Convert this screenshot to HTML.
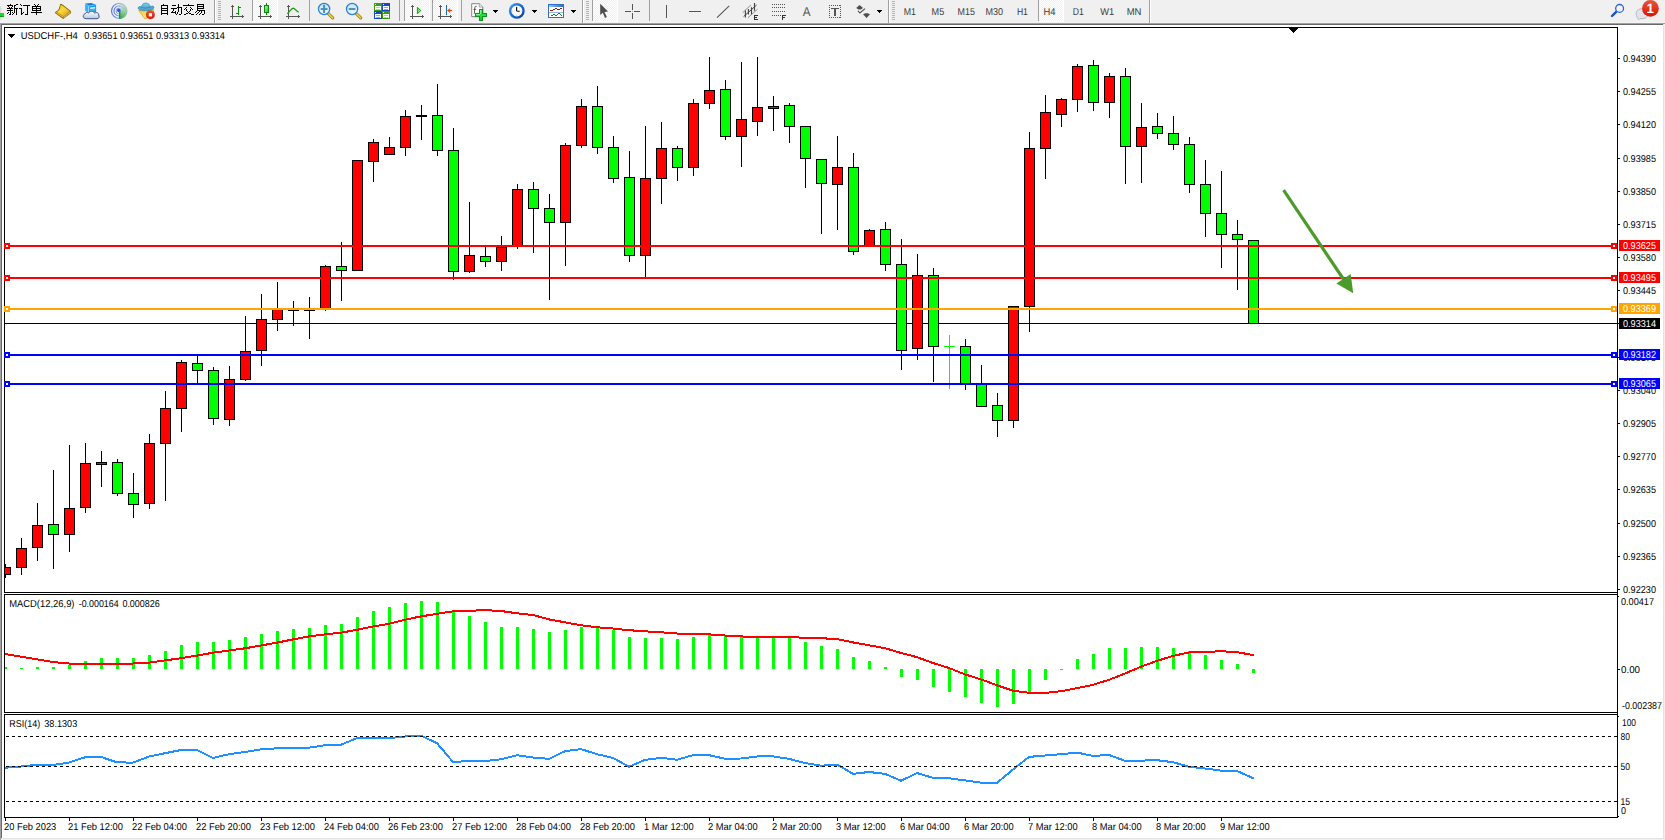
<!DOCTYPE html>
<html><head><meta charset="utf-8"><title>USDCHF-,H4</title>
<style>html,body{margin:0;padding:0;background:#fff;overflow:hidden}svg{display:block}text{font-family:"Liberation Sans",sans-serif;text-rendering:geometricPrecision}</style>
</head><body>
<svg width="1665" height="840" viewBox="0 0 1665 840">
<rect x="0" y="0" width="1665" height="840" fill="#fff"/>
<rect x="0" y="0" width="1665" height="23" fill="#f0f0f0"/>
<rect x="0" y="22" width="1665" height="1" fill="#f4f4f4"/>
<rect x="0" y="23" width="1665" height="1" fill="#a0a0a0"/>
<rect x="1" y="24" width="1664" height="1" fill="#696969"/>
<rect x="0" y="23" width="1" height="817" fill="#a0a0a0"/>
<rect x="1" y="24" width="1" height="814" fill="#696969"/>
<rect x="1663" y="24" width="1" height="816" fill="#e3e3e3"/>
<rect x="1664" y="24" width="1" height="816" fill="#f0f0f0"/>
<rect x="1" y="838" width="1664" height="1" fill="#e3e3e3"/>
<rect x="1" y="839" width="1664" height="1" fill="#f0f0f0"/>
<g id="toolbar"><defs>
<pattern id="chk" width="2" height="2" patternUnits="userSpaceOnUse"><rect width="2" height="2" fill="#f0f0f0"/><rect x="0" y="0" width="1" height="1" fill="#fff"/><rect x="1" y="1" width="1" height="1" fill="#fff"/></pattern>
<linearGradient id="gGold" x1="0" y1="0" x2="1" y2="1"><stop offset="0" stop-color="#dca518"/><stop offset=".4" stop-color="#fbdc3c"/><stop offset="1" stop-color="#d89a10"/></linearGradient>
<linearGradient id="gCloud" x1="0" y1="0" x2="0" y2="1"><stop offset="0" stop-color="#ffffff"/><stop offset="1" stop-color="#b9c7de"/></linearGradient>
<linearGradient id="gCandle" x1="0" y1="0" x2="1" y2="1"><stop offset="0" stop-color="#a0f5a0"/><stop offset="1" stop-color="#18d030"/></linearGradient>
<linearGradient id="gLens" x1="0" y1="0" x2="0" y2="1"><stop offset="0" stop-color="#c4e8fb"/><stop offset="1" stop-color="#e8f7ff"/></linearGradient>
<linearGradient id="gHat" x1="0" y1="0" x2="0" y2="1"><stop offset="0" stop-color="#8fd0ee"/><stop offset="1" stop-color="#4aa5d5"/></linearGradient>
<linearGradient id="gYel" x1="0" y1="0" x2="1" y2="1"><stop offset="0" stop-color="#f5c828"/><stop offset=".6" stop-color="#fbe46a"/><stop offset="1" stop-color="#e8b010"/></linearGradient>
<linearGradient id="gRed" x1="0" y1="0" x2="0" y2="1"><stop offset="0" stop-color="#e8553c"/><stop offset="1" stop-color="#dc1400"/></linearGradient>
<linearGradient id="gClock" x1="0" y1="0" x2="1" y2="1"><stop offset="0" stop-color="#4aa4f8"/><stop offset=".5" stop-color="#1868d0"/><stop offset="1" stop-color="#083a90"/></linearGradient>
<linearGradient id="gPlus" x1="0" y1="0" x2="0" y2="1"><stop offset="0" stop-color="#50f060"/><stop offset="1" stop-color="#08c820"/></linearGradient>
<linearGradient id="gTitle" x1="0" y1="0" x2="1" y2="0"><stop offset="0" stop-color="#9cc4f0"/><stop offset="1" stop-color="#2a6ac8"/></linearGradient>
<radialGradient id="gRadar" cx=".5" cy=".5" r=".5"><stop offset="0" stop-color="#18a018"/><stop offset=".55" stop-color="#6cc070" stop-opacity=".85"/><stop offset="1" stop-color="#9ccf9c" stop-opacity=".55"/></radialGradient>
<linearGradient id="gRing" x1="0" y1="0" x2="1" y2="0"><stop offset="0" stop-color="#2850cc"/><stop offset=".5" stop-color="#6a8ce0"/><stop offset="1" stop-color="#a8bce8" stop-opacity=".5"/></linearGradient>
</defs>
<g shape-rendering="crispEdges">
<rect x="0" y="6" width="1" height="14" fill="#dcdcdc"/>
<rect x="1" y="8" width="1" height="10" fill="#e6e6e6"/>
<rect x="0" y="13" width="4" height="4" fill="#0a9a10"/>
<rect x="0" y="13" width="4" height="3" fill="#10e020"/>
<rect x="214" y="0" width="1" height="23" fill="#a0a0a0"/>
<rect x="215" y="0" width="1" height="23" fill="#fff"/>
<rect x="218" y="1" width="3" height="1" fill="#b4b4b4"/>
<rect x="218" y="3" width="3" height="1" fill="#b4b4b4"/>
<rect x="218" y="5" width="3" height="1" fill="#b4b4b4"/>
<rect x="218" y="7" width="3" height="1" fill="#b4b4b4"/>
<rect x="218" y="9" width="3" height="1" fill="#b4b4b4"/>
<rect x="218" y="11" width="3" height="1" fill="#b4b4b4"/>
<rect x="218" y="13" width="3" height="1" fill="#b4b4b4"/>
<rect x="218" y="15" width="3" height="1" fill="#b4b4b4"/>
<rect x="218" y="17" width="3" height="1" fill="#b4b4b4"/>
<rect x="218" y="19" width="3" height="1" fill="#b4b4b4"/>
<rect x="252" y="0" width="1" height="21" fill="#a0a0a0"/>
<rect x="253" y="0" width="24" height="21" fill="url(#chk)"/>
<rect x="277" y="0" width="1" height="22" fill="#fff"/>
<rect x="252" y="21" width="26" height="1" fill="#fff"/>
<rect x="309" y="0" width="1" height="21" fill="#a0a0a0"/>
<rect x="399" y="0" width="1" height="21" fill="#a0a0a0"/>
<rect x="404" y="0" width="1" height="21" fill="#a0a0a0"/>
<rect x="405" y="0" width="24" height="21" fill="url(#chk)"/>
<rect x="429" y="0" width="1" height="22" fill="#fff"/>
<rect x="404" y="21" width="26" height="1" fill="#fff"/>
<rect x="432" y="0" width="1" height="21" fill="#a0a0a0"/>
<rect x="433" y="0" width="24" height="21" fill="url(#chk)"/>
<rect x="457" y="0" width="1" height="22" fill="#fff"/>
<rect x="432" y="21" width="26" height="1" fill="#fff"/>
<rect x="461" y="0" width="1" height="21" fill="#a0a0a0"/>
<rect x="582" y="0" width="1" height="23" fill="#a0a0a0"/>
<rect x="583" y="0" width="1" height="23" fill="#fff"/>
<rect x="586" y="1" width="3" height="1" fill="#b4b4b4"/>
<rect x="586" y="3" width="3" height="1" fill="#b4b4b4"/>
<rect x="586" y="5" width="3" height="1" fill="#b4b4b4"/>
<rect x="586" y="7" width="3" height="1" fill="#b4b4b4"/>
<rect x="586" y="9" width="3" height="1" fill="#b4b4b4"/>
<rect x="586" y="11" width="3" height="1" fill="#b4b4b4"/>
<rect x="586" y="13" width="3" height="1" fill="#b4b4b4"/>
<rect x="586" y="15" width="3" height="1" fill="#b4b4b4"/>
<rect x="586" y="17" width="3" height="1" fill="#b4b4b4"/>
<rect x="586" y="19" width="3" height="1" fill="#b4b4b4"/>
<rect x="592" y="0" width="1" height="21" fill="#a0a0a0"/>
<rect x="593" y="0" width="24" height="21" fill="url(#chk)"/>
<rect x="617" y="0" width="1" height="22" fill="#fff"/>
<rect x="592" y="21" width="26" height="1" fill="#fff"/>
<rect x="649" y="0" width="1" height="21" fill="#a0a0a0"/>
<rect x="888" y="0" width="1" height="23" fill="#a0a0a0"/>
<rect x="889" y="0" width="1" height="23" fill="#fff"/>
<rect x="892" y="1" width="3" height="1" fill="#b4b4b4"/>
<rect x="892" y="3" width="3" height="1" fill="#b4b4b4"/>
<rect x="892" y="5" width="3" height="1" fill="#b4b4b4"/>
<rect x="892" y="7" width="3" height="1" fill="#b4b4b4"/>
<rect x="892" y="9" width="3" height="1" fill="#b4b4b4"/>
<rect x="892" y="11" width="3" height="1" fill="#b4b4b4"/>
<rect x="892" y="13" width="3" height="1" fill="#b4b4b4"/>
<rect x="892" y="15" width="3" height="1" fill="#b4b4b4"/>
<rect x="892" y="17" width="3" height="1" fill="#b4b4b4"/>
<rect x="892" y="19" width="3" height="1" fill="#b4b4b4"/>
<rect x="1038" y="0" width="1" height="21" fill="#a0a0a0"/>
<rect x="1039" y="0" width="24" height="21" fill="url(#chk)"/>
<rect x="1063" y="0" width="1" height="22" fill="#fff"/>
<rect x="1038" y="21" width="26" height="1" fill="#fff"/>
<rect x="1149" y="0" width="1" height="23" fill="#a0a0a0"/>
<rect x="1150" y="0" width="1" height="23" fill="#fff"/>
</g>
<g role="img" aria-label="新订单"><title>新订单</title><path transform="translate(7,4)" d="M3 0h1v1h-1zM9 0h2v1h-2zM13 0h1v1h-1zM27 0h1v1h-1zM31 0h1v1h-1zM0 1h6v1h-6zM7 1h2v1h-2zM14 1h1v1h-1zM16 1h7v1h-7zM28 1h1v1h-1zM30 1h1v1h-1zM1 2h1v1h-1zM5 2h1v1h-1zM7 2h1v1h-1zM20 2h1v1h-1zM25 2h9v1h-9zM2 3h1v1h-1zM4 3h1v1h-1zM7 3h1v1h-1zM20 3h1v1h-1zM25 3h1v1h-1zM29 3h1v1h-1zM33 3h1v1h-1zM0 4h6v1h-6zM7 4h4v1h-4zM12 4h3v1h-3zM20 4h1v1h-1zM25 4h9v1h-9zM3 5h1v1h-1zM7 5h1v1h-1zM9 5h1v1h-1zM14 5h1v1h-1zM20 5h1v1h-1zM25 5h1v1h-1zM29 5h1v1h-1zM33 5h1v1h-1zM0 6h6v1h-6zM7 6h1v1h-1zM9 6h1v1h-1zM14 6h1v1h-1zM20 6h1v1h-1zM25 6h9v1h-9zM3 7h1v1h-1zM7 7h1v1h-1zM9 7h1v1h-1zM14 7h1v1h-1zM20 7h1v1h-1zM29 7h1v1h-1zM1 8h1v1h-1zM3 8h1v1h-1zM5 8h1v1h-1zM7 8h1v1h-1zM9 8h1v1h-1zM14 8h1v1h-1zM16 8h1v1h-1zM20 8h1v1h-1zM24 8h11v1h-11zM0 9h1v1h-1zM3 9h1v1h-1zM6 9h1v1h-1zM9 9h1v1h-1zM14 9h2v1h-2zM20 9h1v1h-1zM29 9h1v1h-1zM2 10h2v1h-2zM5 10h1v1h-1zM9 10h1v1h-1zM14 10h1v1h-1zM18 10h3v1h-3zM29 10h1v1h-1z" fill="#000" shape-rendering="crispEdges"/></g>
<g role="img" aria-label="自动交易"><title>自动交易</title><path transform="translate(161,4)" d="M2 0h1v1h-1zM17 0h1v1h-1zM27 0h1v1h-1zM36 0h7v1h-7zM0 1h7v1h-7zM11 1h4v1h-4zM17 1h1v1h-1zM22 1h11v1h-11zM36 1h1v1h-1zM42 1h1v1h-1zM0 2h1v1h-1zM6 2h1v1h-1zM17 2h1v1h-1zM36 2h7v1h-7zM0 3h1v1h-1zM6 3h1v1h-1zM16 3h5v1h-5zM25 3h1v1h-1zM29 3h1v1h-1zM36 3h1v1h-1zM42 3h1v1h-1zM0 4h7v1h-7zM10 4h6v1h-6zM17 4h1v1h-1zM20 4h1v1h-1zM24 4h1v1h-1zM30 4h1v1h-1zM36 4h7v1h-7zM0 5h1v1h-1zM6 5h1v1h-1zM12 5h1v1h-1zM17 5h1v1h-1zM20 5h1v1h-1zM23 5h1v1h-1zM25 5h1v1h-1zM29 5h1v1h-1zM31 5h1v1h-1zM36 5h1v1h-1zM0 6h7v1h-7zM12 6h1v1h-1zM17 6h1v1h-1zM20 6h1v1h-1zM25 6h1v1h-1zM29 6h1v1h-1zM36 6h8v1h-8zM0 7h1v1h-1zM6 7h1v1h-1zM11 7h1v1h-1zM14 7h1v1h-1zM17 7h1v1h-1zM20 7h1v1h-1zM26 7h1v1h-1zM28 7h1v1h-1zM35 7h1v1h-1zM38 7h1v1h-1zM40 7h1v1h-1zM43 7h1v1h-1zM0 8h1v1h-1zM6 8h1v1h-1zM10 8h5v1h-5zM16 8h1v1h-1zM20 8h1v1h-1zM27 8h1v1h-1zM34 8h1v1h-1zM37 8h1v1h-1zM40 8h1v1h-1zM43 8h1v1h-1zM0 9h7v1h-7zM14 9h1v1h-1zM16 9h1v1h-1zM20 9h1v1h-1zM25 9h2v1h-2zM28 9h2v1h-2zM36 9h1v1h-1zM39 9h1v1h-1zM43 9h1v1h-1zM0 10h1v1h-1zM6 10h1v1h-1zM15 10h1v1h-1zM18 10h2v1h-2zM23 10h2v1h-2zM30 10h3v1h-3zM35 10h1v1h-1zM38 10h1v1h-1zM41 10h2v1h-2z" fill="#000" shape-rendering="crispEdges"/></g>
<g>
<path d="M60.3 3.9 L61.8 4.1 L70.6 10.7 L71.2 12.9 L63.2 18.9 L54.9 12.9 L55.6 11.8 C57.6 10.6 58.6 9.6 58.9 8.4 Z" fill="#8e5e04"/>
<path d="M60.7 4.9 L61.6 5 L69.7 11 L63.7 16.5 L56.8 11.9 C58.6 10.8 59.6 9.6 59.8 8.4 Z" fill="url(#gGold)"/>
<path d="M55.8 12.9 L56.8 11.9 L63.8 16.6 L63.2 18.1 Z" fill="#c48a14"/>
<path d="M56.4 12.5 L63.5 17.3" stroke="#f4d060" stroke-width=".7" fill="none"/>
<path d="M64 16.8 L69.9 11.4 L70.5 12.8 L63.7 18 Z" fill="#e4d79e"/>
<path d="M64 17.6 L70.2 12.2" stroke="#b09040" stroke-width=".5" fill="none"/>
</g>
<g>
<path d="M85.1 3.6 L91.2 3.1 L96.1 4.7 L88.7 5.9 Z" fill="#0c7ee8"/>
<path d="M85.1 3.6 L88.7 5.9 L88.7 12.4 L85.1 11 Z" fill="#34b0ff"/>
<path d="M88.7 5.9 L96.1 4.7 L96.1 12 L88.7 12.4 Z" fill="#0d9cf8"/>
<path d="M88.7 5.9 V12.2" stroke="#c8ecff" stroke-width=".7"/>
<path d="M85.1 3.6 L88.7 5.9 L96.1 4.7" stroke="#7fd0ff" stroke-width=".5" fill="none"/>
<path d="M90.2 7.6 L95.2 7.1 L95.2 8.5 L90.2 8.9 Z" fill="#e4f6ff"/>
<path d="M90.2 9.6 L95.2 9.2 L95.2 10.6 L90.2 10.9 Z" fill="#4cc0ff"/>
<path d="M86.2 18.7 C82.6 18.7 82.4 14.6 85 13.9 C85.6 12.2 87.6 12 88.6 13 C89.6 10.6 93.8 10.6 94.6 13.2 C96.2 11.8 99 12.8 98.6 15 C99.8 16 99.2 18.7 97 18.7 Z" fill="url(#gCloud)" stroke="#38568f" stroke-width="1"/>
</g>
<g fill="none">
<circle cx="119" cy="10.9" r="8" fill="#f7f8fc"/>
<path d="M119.4 10.9 L119.40 18.90 A8 8 0 0 0 121.20 18.69 Z" fill="rgb(24,160,30)" opacity="0.95"/>
<path d="M119.4 10.9 L121.06 18.73 A8 8 0 0 0 122.78 18.15 Z" fill="rgb(33,163,39)" opacity="0.91"/>
<path d="M119.4 10.9 L122.65 18.21 A8 8 0 0 0 124.21 17.29 Z" fill="rgb(43,166,49)" opacity="0.86"/>
<path d="M119.4 10.9 L124.10 17.37 A8 8 0 0 0 125.44 16.15 Z" fill="rgb(53,169,58)" opacity="0.82"/>
<path d="M119.4 10.9 L125.35 16.25 A8 8 0 0 0 126.40 14.78 Z" fill="rgb(62,172,68)" opacity="0.78"/>
<path d="M119.4 10.9 L126.33 14.90 A8 8 0 0 0 127.05 13.24 Z" fill="rgb(72,176,78)" opacity="0.74"/>
<path d="M119.4 10.9 L127.01 13.37 A8 8 0 0 0 127.37 11.60 Z" fill="rgb(82,179,87)" opacity="0.69"/>
<path d="M119.4 10.9 L127.36 11.74 A8 8 0 0 0 127.34 9.93 Z" fill="rgb(92,182,97)" opacity="0.65"/>
<path d="M119.4 10.9 L127.36 10.06 A8 8 0 0 0 126.96 8.30 Z" fill="rgb(101,185,107)" opacity="0.61"/>
<path d="M119.4 10.9 L127.01 8.43 A8 8 0 0 0 126.26 6.78 Z" fill="rgb(111,188,116)" opacity="0.56"/>
<path d="M119.4 10.9 L126.33 6.90 A8 8 0 0 0 125.25 5.44 Z" fill="rgb(121,192,126)" opacity="0.52"/>
<path d="M119.4 10.9 L125.35 5.55 A8 8 0 0 0 123.99 4.35 Z" fill="rgb(130,195,136)" opacity="0.48"/>
<path d="M119.4 10.9 L124.10 4.43 A8 8 0 0 0 122.53 3.54 Z" fill="rgb(140,198,145)" opacity="0.44"/>
<path d="M119.4 10.9 L122.65 3.59 A8 8 0 0 0 120.93 3.05 Z" fill="rgb(150,201,155)" opacity="0.39"/>
<path d="M119.4 10.9 L121.06 3.07 A8 8 0 0 0 119.26 2.90 Z" fill="rgb(160,205,165)" opacity="0.35"/>
<circle cx="119" cy="10.9" r="7.4" stroke="url(#gRing)" stroke-width="1.2" opacity=".8"/>
<circle cx="119" cy="10.9" r="5" stroke="url(#gRing)" stroke-width="1.2" opacity=".75"/>
<circle cx="119" cy="10.9" r="2.9" stroke="url(#gRing)" stroke-width="1" opacity=".6"/>
<circle cx="118.8" cy="10.4" r="1.8" fill="#2a5ad4"/>
<path d="M119.6 11 V18.7" stroke="#12a01a" stroke-width="1.3"/>
</g>
<g>
<path d="M138.6 10.2 L153.9 9.4 L153.4 11.8 L146.2 18.8 L144.6 18.6 Z" fill="url(#gYel)" stroke="#c49a14" stroke-width=".6"/>
<path d="M138.3 7.6 C137.6 9.6 141.4 10.9 146 10.7 C150.6 10.5 154.4 9 153.8 7 C153.5 6 152.2 5.7 150.9 6.6 C149.6 7.6 142.6 8 141.4 7 C140.4 6.2 138.7 6.4 138.3 7.6 Z" fill="#4ea8d8" stroke="#2a84b6" stroke-width=".7"/>
<path d="M141.6 7.4 C141.6 4.6 143.4 3.1 145.8 3.1 C148.2 3.1 150 4.6 150.2 7 C148.4 8.2 143.4 8.4 141.6 7.4 Z" fill="url(#gHat)" stroke="#2a84b6" stroke-width=".7"/>
<circle cx="150.4" cy="14.8" r="4.1" fill="url(#gRed)" stroke="#c01800" stroke-width=".5"/>
<rect x="148.8" y="13.2" width="3.2" height="3.2" fill="#fff"/>
</g>
<g shape-rendering="crispEdges">
<rect x="232" y="5" width="1" height="14" fill="#555555"/>
<rect x="231" y="6" width="3" height="1" fill="#555555"/>
<rect x="230" y="16" width="14" height="1" fill="#555555"/>
<rect x="242" y="15" width="1" height="3" fill="#555555"/>
</g>
<g shape-rendering="crispEdges">
<rect x="238" y="6" width="1" height="9" fill="#0a8f0a"/>
<rect x="239" y="7" width="2" height="1" fill="#0a8f0a"/>
<rect x="236" y="13" width="2" height="1" fill="#0a8f0a"/>
</g>
<g shape-rendering="crispEdges">
<rect x="260" y="5" width="1" height="14" fill="#555555"/>
<rect x="259" y="6" width="3" height="1" fill="#555555"/>
<rect x="258" y="16" width="14" height="1" fill="#555555"/>
<rect x="270" y="15" width="1" height="3" fill="#555555"/>
</g>
<g shape-rendering="crispEdges">
<rect x="266" y="3" width="1" height="12" fill="#0a8a0a"/>
<rect x="264" y="5" width="5" height="8" fill="#0a8a0a"/>
<rect x="265" y="6" width="3" height="6" fill="url(#gCandle)"/>
</g>
<g shape-rendering="crispEdges">
<rect x="288" y="5" width="1" height="14" fill="#555555"/>
<rect x="287" y="6" width="3" height="1" fill="#555555"/>
<rect x="286" y="16" width="14" height="1" fill="#555555"/>
<rect x="298" y="15" width="1" height="3" fill="#555555"/>
</g>
<path d="M287.2 13.8 C289.5 12.5 291 8.2 293.2 8.2 C295 8.2 296.4 11.4 298.8 12.2" fill="none" stroke="#1a9a1a" stroke-width="1.2"/>
<path d="M328.3 13.6 L332.70000000000005 17.9" stroke="#a8820c" stroke-width="3.2" stroke-linecap="round"/>
<path d="M328.5 13.8 L332.5 17.7" stroke="#ecd24a" stroke-width="1.6" stroke-linecap="round"/>
<circle cx="324.1" cy="9" r="5.6" fill="url(#gLens)" stroke="#2b7fd4" stroke-width="1.3"/>
<rect x="320.70000000000005" y="8.1" width="6.8" height="1.9" fill="#4a8db8"/>
<rect x="323.1" y="4.8" width="2" height="8.2" fill="#4a8db8"/>
<path d="M356.3 13.6 L360.70000000000005 17.9" stroke="#a8820c" stroke-width="3.2" stroke-linecap="round"/>
<path d="M356.5 13.8 L360.5 17.7" stroke="#ecd24a" stroke-width="1.6" stroke-linecap="round"/>
<circle cx="352.1" cy="9" r="5.6" fill="url(#gLens)" stroke="#2b7fd4" stroke-width="1.3"/>
<rect x="348.70000000000005" y="8.1" width="6.8" height="1.9" fill="#4a8db8"/>
<g shape-rendering="crispEdges">
<rect x="374" y="3" width="8" height="8" fill="#3c9c14"/>
<rect x="375" y="6" width="6" height="4" fill="#fff"/>
<rect x="375" y="4" width="1" height="1" fill="#e8f0ff"/>
<rect x="376" y="7" width="4" height="1" fill="#a8dc90"/>
<rect x="376" y="9" width="4" height="1" fill="#a8dc90"/>
<rect x="382" y="3" width="8" height="8" fill="#1846c8"/>
<rect x="383" y="6" width="6" height="4" fill="#fff"/>
<rect x="383" y="4" width="1" height="1" fill="#e8f0ff"/>
<rect x="384" y="7" width="4" height="1" fill="#90a8ec"/>
<rect x="384" y="9" width="4" height="1" fill="#90a8ec"/>
<rect x="374" y="11" width="8" height="8" fill="#1846c8"/>
<rect x="375" y="14" width="6" height="4" fill="#fff"/>
<rect x="375" y="12" width="1" height="1" fill="#e8f0ff"/>
<rect x="376" y="15" width="4" height="1" fill="#90a8ec"/>
<rect x="376" y="17" width="4" height="1" fill="#90a8ec"/>
<rect x="382" y="11" width="8" height="8" fill="#3c9c14"/>
<rect x="383" y="14" width="6" height="4" fill="#fff"/>
<rect x="383" y="12" width="1" height="1" fill="#e8f0ff"/>
<rect x="384" y="15" width="4" height="1" fill="#a8dc90"/>
<rect x="384" y="17" width="4" height="1" fill="#a8dc90"/>
</g>
<g shape-rendering="crispEdges">
<rect x="412" y="5" width="1" height="14" fill="#555555"/>
<rect x="411" y="6" width="3" height="1" fill="#555555"/>
<rect x="410" y="16" width="14" height="1" fill="#555555"/>
<rect x="422" y="15" width="1" height="3" fill="#555555"/>
</g>
<path d="M417.4 7.4 L420.8 10.6 L417.4 13.6 Z" fill="#7ce87c" stroke="#1a9a1a" stroke-width="1"/>
<g shape-rendering="crispEdges">
<rect x="440" y="5" width="1" height="14" fill="#555555"/>
<rect x="439" y="6" width="3" height="1" fill="#555555"/>
<rect x="438" y="16" width="14" height="1" fill="#555555"/>
<rect x="450" y="15" width="1" height="3" fill="#555555"/>
</g>
<g shape-rendering="crispEdges">
<rect x="446" y="5" width="1" height="10" fill="#1a6aa8"/>
</g>
<path d="M447.2 10.5 L450 8.4 L449.4 10 L451.8 10 L451.8 11 L449.4 11 L450 12.8 Z" fill="#e84a00" stroke="#c03800" stroke-width=".3"/>
<path d="M472.4 4.4 H479.6 L483.6 8 V17.6 H472.4 Z" fill="#c8c8c8" opacity=".6"/>
<path d="M471.7 3.7 H479.3 L482.8 7 V16.6 H471.7 Z" fill="#ffffff" stroke="#7c7c7c" stroke-width=".9"/>
<path d="M479.3 3.7 V7 H482.8" fill="#ededed" stroke="#8a8a8a" stroke-width=".7"/>
<path d="M476.7 6.3 C475.4 5.9 474.9 6.8 474.8 8 L474.3 13.8 M473.5 9.4 H476.2" fill="none" stroke="#4a4a30" stroke-width=".9"/>
<g shape-rendering="crispEdges">
<rect x="479" y="9" width="4" height="12" fill="#0c9418"/>
<rect x="475" y="13" width="12" height="4" fill="#0c9418"/>
<rect x="480" y="10" width="2" height="10" fill="url(#gPlus)"/>
<rect x="476" y="14" width="10" height="2" fill="#22e040"/>
<rect x="480" y="10" width="1" height="4" fill="#7cf890"/>
<rect x="476" y="14" width="4" height="1" fill="#7cf890"/>
</g>
<g shape-rendering="crispEdges">
<rect x="493" y="10" width="5" height="1" fill="#000"/>
<rect x="494" y="11" width="3" height="1" fill="#000"/>
<rect x="495" y="12" width="1" height="1" fill="#000"/>
</g>
<circle cx="516.8" cy="10.9" r="7.9" fill="url(#gClock)"/>
<circle cx="516.9" cy="10.9" r="5.5" fill="#fdfdfd"/>
<path d="M516.6 11 V7 M516.6 11 L519.6 11.4" stroke="#111" stroke-width="1.2" fill="none"/>
<g fill="#9a9a9a"><circle cx="516.8" cy="6.6" r=".45"/><circle cx="516.8" cy="15.2" r=".45"/><circle cx="512.5" cy="10.9" r=".45"/><circle cx="521.1" cy="10.9" r=".45"/><circle cx="513.8" cy="7.9" r=".35"/><circle cx="519.8" cy="7.9" r=".35"/><circle cx="513.8" cy="13.9" r=".35"/><circle cx="519.8" cy="13.9" r=".35"/></g>
<g shape-rendering="crispEdges">
<rect x="532" y="10" width="5" height="1" fill="#000"/>
<rect x="533" y="11" width="3" height="1" fill="#000"/>
<rect x="534" y="12" width="1" height="1" fill="#000"/>
</g>
<g shape-rendering="crispEdges">
<rect x="548" y="4" width="16" height="14" fill="#2f72bc"/>
<rect x="549" y="5" width="14" height="2" fill="url(#gTitle)"/>
<rect x="549" y="7" width="14" height="10" fill="#fff"/>
<rect x="549" y="12" width="14" height="1" fill="#9db8dc"/>
</g>
<g shape-rendering="crispEdges">
<rect x="550" y="10" width="3" height="1" fill="#9a1c00"/>
<rect x="553" y="9" width="2" height="1" fill="#9a1c00"/>
<rect x="555" y="8" width="2" height="1" fill="#9a1c00"/>
<rect x="557" y="9" width="3" height="1" fill="#9a1c00"/>
<rect x="560" y="8" width="2" height="1" fill="#9a1c00"/>
<rect x="551" y="15" width="2" height="1" fill="#0a8a22"/>
<rect x="553" y="14" width="2" height="1" fill="#0a8a22"/>
<rect x="555" y="15" width="2" height="1" fill="#0a8a22"/>
<rect x="557" y="14" width="1" height="1" fill="#0a8a22"/>
<rect x="558" y="13" width="2" height="1" fill="#0a8a22"/>
<rect x="560" y="14" width="1" height="1" fill="#0a8a22"/>
<rect x="561" y="15" width="1" height="1" fill="#0a8a22"/>
</g>
<g shape-rendering="crispEdges">
<rect x="571" y="10" width="5" height="1" fill="#000"/>
<rect x="572" y="11" width="3" height="1" fill="#000"/>
<rect x="573" y="12" width="1" height="1" fill="#000"/>
</g>
<path d="M600.2 3.8 V15 L602.8 12.7 L605 17.9 L606.8 17.1 L604.5 12 L608 11.5 Z" fill="#4d4d4d"/>
<g shape-rendering="crispEdges">
<rect x="632" y="4" width="1" height="6" fill="#555555"/>
<rect x="632" y="13" width="1" height="6" fill="#555555"/>
<rect x="625" y="11" width="6" height="1" fill="#555555"/>
<rect x="634" y="11" width="6" height="1" fill="#555555"/>
<rect x="632" y="11" width="1" height="1" fill="#b0b0b0"/>
</g>
<g shape-rendering="crispEdges">
<rect x="666" y="5" width="1" height="13" fill="#555555"/>
</g>
<g shape-rendering="crispEdges">
<rect x="689" y="11" width="12" height="1" fill="#555555"/>
</g>
<path d="M717 17.6 L729.2 5.8" stroke="#555" stroke-width="1.1" fill="none"/>
<g fill="none"><path d="M742.6 12.7 L750.9 5" stroke="#777" stroke-width=".8"/><path d="M747.9 17.8 L757.5 9.2" stroke="#777" stroke-width=".8"/><path d="M743.6 16.6 L756.6 5" stroke="#444" stroke-width="1"/><path d="M745.4 10.4 V17.6 M748.4 9 V14.6 M751.5 7.2 V14.2 M754.5 3 V10.8" stroke="#444" stroke-width="1.1"/></g>
<g shape-rendering="crispEdges" fill="#333">
<rect x="754" y="15" width="1" height="5" fill="#333"/>
<rect x="754" y="15" width="4" height="1" fill="#333"/>
<rect x="754" y="17" width="3" height="1" fill="#333"/>
<rect x="754" y="19" width="4" height="1" fill="#333"/>
<rect x="782" y="15" width="1" height="5" fill="#333"/>
<rect x="782" y="15" width="4" height="1" fill="#333"/>
<rect x="782" y="17" width="3" height="1" fill="#333"/>
</g>
<g shape-rendering="crispEdges" fill="#555">
<rect x="772" y="4" width="1" height="1"/>
<rect x="774" y="4" width="1" height="1"/>
<rect x="776" y="4" width="1" height="1"/>
<rect x="778" y="4" width="1" height="1"/>
<rect x="780" y="4" width="1" height="1"/>
<rect x="782" y="4" width="1" height="1"/>
<rect x="784" y="4" width="1" height="1"/>
<rect x="772" y="7" width="1" height="1"/>
<rect x="774" y="7" width="1" height="1"/>
<rect x="776" y="7" width="1" height="1"/>
<rect x="778" y="7" width="1" height="1"/>
<rect x="780" y="7" width="1" height="1"/>
<rect x="782" y="7" width="1" height="1"/>
<rect x="784" y="7" width="1" height="1"/>
<rect x="772" y="11" width="1" height="1"/>
<rect x="774" y="11" width="1" height="1"/>
<rect x="776" y="11" width="1" height="1"/>
<rect x="778" y="11" width="1" height="1"/>
<rect x="780" y="11" width="1" height="1"/>
<rect x="782" y="11" width="1" height="1"/>
<rect x="784" y="11" width="1" height="1"/>
<rect x="772" y="15" width="1" height="1"/>
<rect x="774" y="15" width="1" height="1"/>
<rect x="776" y="15" width="1" height="1"/>
<rect x="778" y="15" width="1" height="1"/>
<rect x="780" y="15" width="1" height="1"/>
</g>
<text x="802.8" y="15.9" font-size="12.8" fill="#555" textLength="7.8" lengthAdjust="spacingAndGlyphs">A</text>
<g shape-rendering="crispEdges" fill="#555">
<rect x="829" y="5" width="1" height="1"/><rect x="829" y="17" width="1" height="1"/>
<rect x="831" y="5" width="1" height="1"/><rect x="831" y="17" width="1" height="1"/>
<rect x="833" y="5" width="1" height="1"/><rect x="833" y="17" width="1" height="1"/>
<rect x="835" y="5" width="1" height="1"/><rect x="835" y="17" width="1" height="1"/>
<rect x="837" y="5" width="1" height="1"/><rect x="837" y="17" width="1" height="1"/>
<rect x="839" y="5" width="1" height="1"/><rect x="839" y="17" width="1" height="1"/>
<rect x="829" y="5" width="1" height="1"/><rect x="840" y="5" width="1" height="1"/>
<rect x="829" y="7" width="1" height="1"/><rect x="840" y="7" width="1" height="1"/>
<rect x="829" y="9" width="1" height="1"/><rect x="840" y="9" width="1" height="1"/>
<rect x="829" y="11" width="1" height="1"/><rect x="840" y="11" width="1" height="1"/>
<rect x="829" y="13" width="1" height="1"/><rect x="840" y="13" width="1" height="1"/>
<rect x="829" y="15" width="1" height="1"/><rect x="840" y="15" width="1" height="1"/>
<rect x="829" y="17" width="1" height="1"/><rect x="840" y="17" width="1" height="1"/>
<rect x="831" y="8" width="8" height="1" fill="#555"/>
<rect x="834" y="8" width="2" height="8" fill="#555"/>
</g>
<path d="M859.6 5 L863 8 L860.8 9.4 L858.4 9.4 L856.2 8 Z" fill="#4d4d4d"/>
<path d="M858 10.8 L860 13 L865 8.6" fill="none" stroke="#4d4d4d" stroke-width="1.1"/>
<path d="M863 14.2 L865.4 13.2 L867.6 13.2 L870 14.2 L866.6 18 Z" fill="#4d4d4d"/>
<g shape-rendering="crispEdges">
<rect x="877" y="10" width="5" height="1" fill="#000"/>
<rect x="878" y="11" width="3" height="1" fill="#000"/>
<rect x="879" y="12" width="1" height="1" fill="#000"/>
</g>
<text x="903.8" y="15" font-size="10" fill="#3a3a3a" textLength="12.2" lengthAdjust="spacingAndGlyphs">M1</text>
<text x="931.6" y="15" font-size="10" fill="#3a3a3a" textLength="12.6" lengthAdjust="spacingAndGlyphs">M5</text>
<text x="957.6" y="15" font-size="10" fill="#3a3a3a" textLength="17.3" lengthAdjust="spacingAndGlyphs">M15</text>
<text x="985.4" y="15" font-size="10" fill="#3a3a3a" textLength="17.6" lengthAdjust="spacingAndGlyphs">M30</text>
<text x="1016.9" y="15" font-size="10" fill="#3a3a3a" textLength="11" lengthAdjust="spacingAndGlyphs">H1</text>
<text x="1043.6" y="15" font-size="10" fill="#3a3a3a" textLength="12" lengthAdjust="spacingAndGlyphs">H4</text>
<text x="1072.7" y="15" font-size="10" fill="#3a3a3a" textLength="11.1" lengthAdjust="spacingAndGlyphs">D1</text>
<text x="1100.2" y="15" font-size="10" fill="#3a3a3a" textLength="13.9" lengthAdjust="spacingAndGlyphs">W1</text>
<text x="1126.7" y="15" font-size="10" fill="#3a3a3a" textLength="14.7" lengthAdjust="spacingAndGlyphs">MN</text>
<path d="M1616.2 11.8 L1612 16" stroke="#1c4fc4" stroke-width="2.4" stroke-linecap="round"/>
<circle cx="1619.6" cy="8.4" r="3.9" fill="#f4f4ff" stroke="#2a60d4" stroke-width="1.3"/>
<path d="M1638 18.4 C1638.2 19.6 1639 20 1640 18.6 C1646 19.4 1649 16 1648.4 12.4 C1647.6 8.6 1640 7.4 1637.2 10.6 C1635.4 13 1636.2 16.4 1638 18.4 Z" fill="#e2e2ec" stroke="#b0b0b0" stroke-width=".9"/>
<circle cx="1650.4" cy="8.4" r="8.4" fill="url(#gRed)"/>
<text x="1646.6" y="13.2" font-family="Liberation Serif, serif" font-weight="bold" font-size="13.4" fill="#fff">1</text></g>
<g shape-rendering="crispEdges">
<rect x="4" y="27" width="1614" height="1" fill="#000"/>
<rect x="4" y="27" width="1" height="791" fill="#000"/>
<rect x="1617" y="27" width="1" height="791" fill="#000"/>
<rect x="4" y="592" width="1614" height="1" fill="#000"/>
<rect x="4" y="593" width="1614" height="1" fill="#fff"/>
<rect x="4" y="594" width="1614" height="1" fill="#000"/>
<rect x="4" y="712" width="1614" height="1" fill="#000"/>
<rect x="4" y="713" width="1614" height="1" fill="#fff"/>
<rect x="4" y="714" width="1614" height="1" fill="#000"/>
<rect x="4" y="817" width="1614" height="1" fill="#000"/>
<rect x="1618" y="816" width="1" height="1" fill="#000"/>
<rect x="1618" y="596" width="1" height="1" fill="#000"/>
<rect x="1618" y="716" width="1" height="1" fill="#000"/>
<rect x="5" y="323" width="1612" height="1" fill="#000"/>
<clipPath id="cm"><rect x="5" y="28" width="1612" height="564"/></clipPath>
<g clip-path="url(#cm)">
<rect x="5" y="564" width="1" height="14" fill="#000"/>
<rect x="0" y="567" width="11" height="8" fill="#000"/>
<rect x="1" y="568" width="9" height="6" fill="#ff0000"/>
<rect x="21" y="538" width="1" height="37" fill="#000"/>
<rect x="16" y="548" width="11" height="20" fill="#000"/>
<rect x="17" y="549" width="9" height="18" fill="#ff0000"/>
<rect x="37" y="503" width="1" height="58" fill="#000"/>
<rect x="32" y="525" width="11" height="23" fill="#000"/>
<rect x="33" y="526" width="9" height="21" fill="#ff0000"/>
<rect x="53" y="470" width="1" height="99" fill="#000"/>
<rect x="48" y="524" width="11" height="11" fill="#000"/>
<rect x="49" y="525" width="9" height="9" fill="#00ff00"/>
<rect x="69" y="445" width="1" height="107" fill="#000"/>
<rect x="64" y="508" width="11" height="27" fill="#000"/>
<rect x="65" y="509" width="9" height="25" fill="#ff0000"/>
<rect x="85" y="443" width="1" height="70" fill="#000"/>
<rect x="80" y="463" width="11" height="45" fill="#000"/>
<rect x="81" y="464" width="9" height="43" fill="#ff0000"/>
<rect x="101" y="451" width="1" height="36" fill="#000"/>
<rect x="96" y="462" width="11" height="3" fill="#000"/>
<rect x="97" y="463" width="9" height="1" fill="#ff0000"/>
<rect x="117" y="459" width="1" height="37" fill="#000"/>
<rect x="112" y="462" width="11" height="32" fill="#000"/>
<rect x="113" y="463" width="9" height="30" fill="#00ff00"/>
<rect x="133" y="473" width="1" height="45" fill="#000"/>
<rect x="128" y="493" width="11" height="12" fill="#000"/>
<rect x="129" y="494" width="9" height="10" fill="#00ff00"/>
<rect x="149" y="434" width="1" height="75" fill="#000"/>
<rect x="144" y="443" width="11" height="61" fill="#000"/>
<rect x="145" y="444" width="9" height="59" fill="#ff0000"/>
<rect x="165" y="391" width="1" height="110" fill="#000"/>
<rect x="160" y="408" width="11" height="36" fill="#000"/>
<rect x="161" y="409" width="9" height="34" fill="#ff0000"/>
<rect x="181" y="360" width="1" height="72" fill="#000"/>
<rect x="176" y="362" width="11" height="47" fill="#000"/>
<rect x="177" y="363" width="9" height="45" fill="#ff0000"/>
<rect x="197" y="355" width="1" height="28" fill="#000"/>
<rect x="192" y="363" width="11" height="8" fill="#000"/>
<rect x="193" y="364" width="9" height="6" fill="#00ff00"/>
<rect x="213" y="367" width="1" height="58" fill="#000"/>
<rect x="208" y="370" width="11" height="49" fill="#000"/>
<rect x="209" y="371" width="9" height="47" fill="#00ff00"/>
<rect x="229" y="366" width="1" height="60" fill="#000"/>
<rect x="224" y="379" width="11" height="41" fill="#000"/>
<rect x="225" y="380" width="9" height="39" fill="#ff0000"/>
<rect x="245" y="316" width="1" height="65" fill="#000"/>
<rect x="240" y="351" width="11" height="29" fill="#000"/>
<rect x="241" y="352" width="9" height="27" fill="#ff0000"/>
<rect x="261" y="294" width="1" height="72" fill="#000"/>
<rect x="256" y="319" width="11" height="32" fill="#000"/>
<rect x="257" y="320" width="9" height="30" fill="#ff0000"/>
<rect x="277" y="282" width="1" height="49" fill="#000"/>
<rect x="272" y="309" width="11" height="11" fill="#000"/>
<rect x="273" y="310" width="9" height="9" fill="#ff0000"/>
<rect x="293" y="301" width="1" height="25" fill="#000"/>
<rect x="288" y="310" width="11" height="1" fill="#000"/>
<rect x="309" y="297" width="1" height="42" fill="#000"/>
<rect x="304" y="310" width="11" height="1" fill="#000"/>
<rect x="325" y="265" width="1" height="46" fill="#000"/>
<rect x="320" y="266" width="11" height="43" fill="#000"/>
<rect x="321" y="267" width="9" height="41" fill="#ff0000"/>
<rect x="341" y="242" width="1" height="59" fill="#000"/>
<rect x="336" y="266" width="11" height="5" fill="#000"/>
<rect x="337" y="267" width="9" height="3" fill="#00ff00"/>
<rect x="357" y="160" width="1" height="111" fill="#000"/>
<rect x="352" y="160" width="11" height="111" fill="#000"/>
<rect x="353" y="161" width="9" height="109" fill="#ff0000"/>
<rect x="373" y="139" width="1" height="43" fill="#000"/>
<rect x="368" y="142" width="11" height="20" fill="#000"/>
<rect x="369" y="143" width="9" height="18" fill="#ff0000"/>
<rect x="389" y="137" width="1" height="18" fill="#000"/>
<rect x="384" y="147" width="11" height="8" fill="#000"/>
<rect x="385" y="148" width="9" height="6" fill="#ff0000"/>
<rect x="405" y="110" width="1" height="46" fill="#000"/>
<rect x="400" y="116" width="11" height="32" fill="#000"/>
<rect x="401" y="117" width="9" height="30" fill="#ff0000"/>
<rect x="421" y="105" width="1" height="35" fill="#000"/>
<rect x="416" y="115" width="11" height="2" fill="#000"/>
<rect x="437" y="84" width="1" height="72" fill="#000"/>
<rect x="432" y="115" width="11" height="36" fill="#000"/>
<rect x="433" y="116" width="9" height="34" fill="#00ff00"/>
<rect x="453" y="128" width="1" height="152" fill="#000"/>
<rect x="448" y="150" width="11" height="122" fill="#000"/>
<rect x="449" y="151" width="9" height="120" fill="#00ff00"/>
<rect x="469" y="202" width="1" height="71" fill="#000"/>
<rect x="464" y="255" width="11" height="17" fill="#000"/>
<rect x="465" y="256" width="9" height="15" fill="#ff0000"/>
<rect x="485" y="247" width="1" height="20" fill="#000"/>
<rect x="480" y="256" width="11" height="6" fill="#000"/>
<rect x="481" y="257" width="9" height="4" fill="#00ff00"/>
<rect x="501" y="236" width="1" height="35" fill="#000"/>
<rect x="496" y="247" width="11" height="15" fill="#000"/>
<rect x="497" y="248" width="9" height="13" fill="#ff0000"/>
<rect x="517" y="184" width="1" height="65" fill="#000"/>
<rect x="512" y="189" width="11" height="58" fill="#000"/>
<rect x="513" y="190" width="9" height="56" fill="#ff0000"/>
<rect x="533" y="182" width="1" height="71" fill="#000"/>
<rect x="528" y="189" width="11" height="20" fill="#000"/>
<rect x="529" y="190" width="9" height="18" fill="#00ff00"/>
<rect x="549" y="194" width="1" height="106" fill="#000"/>
<rect x="544" y="208" width="11" height="15" fill="#000"/>
<rect x="545" y="209" width="9" height="13" fill="#00ff00"/>
<rect x="565" y="143" width="1" height="123" fill="#000"/>
<rect x="560" y="145" width="11" height="78" fill="#000"/>
<rect x="561" y="146" width="9" height="76" fill="#ff0000"/>
<rect x="581" y="99" width="1" height="49" fill="#000"/>
<rect x="576" y="106" width="11" height="40" fill="#000"/>
<rect x="577" y="107" width="9" height="38" fill="#ff0000"/>
<rect x="597" y="86" width="1" height="68" fill="#000"/>
<rect x="592" y="106" width="11" height="42" fill="#000"/>
<rect x="593" y="107" width="9" height="40" fill="#00ff00"/>
<rect x="613" y="136" width="1" height="47" fill="#000"/>
<rect x="608" y="147" width="11" height="32" fill="#000"/>
<rect x="609" y="148" width="9" height="30" fill="#00ff00"/>
<rect x="629" y="151" width="1" height="111" fill="#000"/>
<rect x="624" y="177" width="11" height="79" fill="#000"/>
<rect x="625" y="178" width="9" height="77" fill="#00ff00"/>
<rect x="645" y="126" width="1" height="151" fill="#000"/>
<rect x="640" y="178" width="11" height="78" fill="#000"/>
<rect x="641" y="179" width="9" height="76" fill="#ff0000"/>
<rect x="661" y="122" width="1" height="82" fill="#000"/>
<rect x="656" y="148" width="11" height="31" fill="#000"/>
<rect x="657" y="149" width="9" height="29" fill="#ff0000"/>
<rect x="677" y="146" width="1" height="35" fill="#000"/>
<rect x="672" y="148" width="11" height="20" fill="#000"/>
<rect x="673" y="149" width="9" height="18" fill="#00ff00"/>
<rect x="693" y="99" width="1" height="77" fill="#000"/>
<rect x="688" y="103" width="11" height="65" fill="#000"/>
<rect x="689" y="104" width="9" height="63" fill="#ff0000"/>
<rect x="709" y="57" width="1" height="52" fill="#000"/>
<rect x="704" y="90" width="11" height="14" fill="#000"/>
<rect x="705" y="91" width="9" height="12" fill="#ff0000"/>
<rect x="725" y="80" width="1" height="60" fill="#000"/>
<rect x="720" y="89" width="11" height="48" fill="#000"/>
<rect x="721" y="90" width="9" height="46" fill="#00ff00"/>
<rect x="741" y="62" width="1" height="105" fill="#000"/>
<rect x="736" y="119" width="11" height="18" fill="#000"/>
<rect x="737" y="120" width="9" height="16" fill="#ff0000"/>
<rect x="757" y="57" width="1" height="79" fill="#000"/>
<rect x="752" y="107" width="11" height="15" fill="#000"/>
<rect x="753" y="108" width="9" height="13" fill="#ff0000"/>
<rect x="773" y="96" width="1" height="35" fill="#000"/>
<rect x="768" y="106" width="11" height="3" fill="#000"/>
<rect x="769" y="107" width="9" height="1" fill="#ff0000"/>
<rect x="789" y="103" width="1" height="40" fill="#000"/>
<rect x="784" y="105" width="11" height="22" fill="#000"/>
<rect x="785" y="106" width="9" height="20" fill="#00ff00"/>
<rect x="805" y="126" width="1" height="62" fill="#000"/>
<rect x="800" y="126" width="11" height="33" fill="#000"/>
<rect x="801" y="127" width="9" height="31" fill="#00ff00"/>
<rect x="821" y="159" width="1" height="75" fill="#000"/>
<rect x="816" y="159" width="11" height="25" fill="#000"/>
<rect x="817" y="160" width="9" height="23" fill="#00ff00"/>
<rect x="837" y="136" width="1" height="94" fill="#000"/>
<rect x="832" y="167" width="11" height="18" fill="#000"/>
<rect x="833" y="168" width="9" height="16" fill="#ff0000"/>
<rect x="853" y="153" width="1" height="102" fill="#000"/>
<rect x="848" y="167" width="11" height="85" fill="#000"/>
<rect x="849" y="168" width="9" height="83" fill="#00ff00"/>
<rect x="869" y="229" width="1" height="18" fill="#000"/>
<rect x="864" y="230" width="11" height="17" fill="#000"/>
<rect x="865" y="231" width="9" height="15" fill="#ff0000"/>
<rect x="885" y="222" width="1" height="49" fill="#000"/>
<rect x="880" y="229" width="11" height="36" fill="#000"/>
<rect x="881" y="230" width="9" height="34" fill="#00ff00"/>
<rect x="901" y="239" width="1" height="131" fill="#000"/>
<rect x="896" y="264" width="11" height="87" fill="#000"/>
<rect x="897" y="265" width="9" height="85" fill="#00ff00"/>
<rect x="917" y="254" width="1" height="106" fill="#000"/>
<rect x="912" y="275" width="11" height="74" fill="#000"/>
<rect x="913" y="276" width="9" height="72" fill="#ff0000"/>
<rect x="933" y="268" width="1" height="114" fill="#000"/>
<rect x="928" y="275" width="11" height="72" fill="#000"/>
<rect x="929" y="276" width="9" height="70" fill="#00ff00"/>
<rect x="949" y="335" width="1" height="54" fill="#00ff00"/>
<rect x="944" y="346" width="11" height="1" fill="#00ff00"/>
<rect x="965" y="339" width="1" height="51" fill="#000"/>
<rect x="960" y="346" width="11" height="38" fill="#000"/>
<rect x="961" y="347" width="9" height="36" fill="#00ff00"/>
<rect x="981" y="365" width="1" height="42" fill="#000"/>
<rect x="976" y="384" width="11" height="23" fill="#000"/>
<rect x="977" y="385" width="9" height="21" fill="#00ff00"/>
<rect x="997" y="393" width="1" height="44" fill="#000"/>
<rect x="992" y="405" width="11" height="16" fill="#000"/>
<rect x="993" y="406" width="9" height="14" fill="#00ff00"/>
<rect x="1013" y="306" width="1" height="122" fill="#000"/>
<rect x="1008" y="306" width="11" height="115" fill="#000"/>
<rect x="1009" y="307" width="9" height="113" fill="#ff0000"/>
<rect x="1029" y="132" width="1" height="200" fill="#000"/>
<rect x="1024" y="148" width="11" height="159" fill="#000"/>
<rect x="1025" y="149" width="9" height="157" fill="#ff0000"/>
<rect x="1045" y="95" width="1" height="84" fill="#000"/>
<rect x="1040" y="112" width="11" height="37" fill="#000"/>
<rect x="1041" y="113" width="9" height="35" fill="#ff0000"/>
<rect x="1061" y="98" width="1" height="29" fill="#000"/>
<rect x="1056" y="99" width="11" height="16" fill="#000"/>
<rect x="1057" y="100" width="9" height="14" fill="#ff0000"/>
<rect x="1077" y="64" width="1" height="48" fill="#000"/>
<rect x="1072" y="66" width="11" height="34" fill="#000"/>
<rect x="1073" y="67" width="9" height="32" fill="#ff0000"/>
<rect x="1093" y="60" width="1" height="51" fill="#000"/>
<rect x="1088" y="65" width="11" height="38" fill="#000"/>
<rect x="1089" y="66" width="9" height="36" fill="#00ff00"/>
<rect x="1109" y="73" width="1" height="45" fill="#000"/>
<rect x="1104" y="76" width="11" height="27" fill="#000"/>
<rect x="1105" y="77" width="9" height="25" fill="#ff0000"/>
<rect x="1125" y="68" width="1" height="116" fill="#000"/>
<rect x="1120" y="76" width="11" height="71" fill="#000"/>
<rect x="1121" y="77" width="9" height="69" fill="#00ff00"/>
<rect x="1141" y="103" width="1" height="80" fill="#000"/>
<rect x="1136" y="127" width="11" height="20" fill="#000"/>
<rect x="1137" y="128" width="9" height="18" fill="#ff0000"/>
<rect x="1157" y="113" width="1" height="26" fill="#000"/>
<rect x="1152" y="126" width="11" height="8" fill="#000"/>
<rect x="1153" y="127" width="9" height="6" fill="#00ff00"/>
<rect x="1173" y="116" width="1" height="34" fill="#000"/>
<rect x="1168" y="133" width="11" height="12" fill="#000"/>
<rect x="1169" y="134" width="9" height="10" fill="#00ff00"/>
<rect x="1189" y="137" width="1" height="56" fill="#000"/>
<rect x="1184" y="144" width="11" height="41" fill="#000"/>
<rect x="1185" y="145" width="9" height="39" fill="#00ff00"/>
<rect x="1205" y="160" width="1" height="77" fill="#000"/>
<rect x="1200" y="184" width="11" height="30" fill="#000"/>
<rect x="1201" y="185" width="9" height="28" fill="#00ff00"/>
<rect x="1221" y="171" width="1" height="97" fill="#000"/>
<rect x="1216" y="213" width="11" height="22" fill="#000"/>
<rect x="1217" y="214" width="9" height="20" fill="#00ff00"/>
<rect x="1237" y="220" width="1" height="70" fill="#000"/>
<rect x="1232" y="234" width="11" height="6" fill="#000"/>
<rect x="1233" y="235" width="9" height="4" fill="#00ff00"/>
<rect x="1253" y="240" width="1" height="84" fill="#000"/>
<rect x="1248" y="240" width="11" height="84" fill="#000"/>
<rect x="1249" y="241" width="9" height="82" fill="#00ff00"/>
</g>
<rect x="5" y="245" width="1612" height="2" fill="#ff0000"/>
<rect x="4" y="243" width="6" height="6" fill="#ff0000"/>
<rect x="6" y="245" width="2" height="2" fill="#fff"/>
<rect x="1611" y="243" width="6" height="6" fill="#ff0000"/>
<rect x="1613" y="245" width="2" height="2" fill="#fff"/>
<rect x="5" y="277" width="1612" height="2" fill="#ff0000"/>
<rect x="4" y="275" width="6" height="6" fill="#ff0000"/>
<rect x="6" y="277" width="2" height="2" fill="#fff"/>
<rect x="1611" y="275" width="6" height="6" fill="#ff0000"/>
<rect x="1613" y="277" width="2" height="2" fill="#fff"/>
<rect x="5" y="308" width="1612" height="2" fill="#ffa500"/>
<rect x="4" y="306" width="6" height="6" fill="#ffa500"/>
<rect x="6" y="308" width="2" height="2" fill="#fff"/>
<rect x="1611" y="306" width="6" height="6" fill="#ffa500"/>
<rect x="1613" y="308" width="2" height="2" fill="#fff"/>
<rect x="5" y="354" width="1612" height="2" fill="#0000ff"/>
<rect x="4" y="352" width="6" height="6" fill="#0000ff"/>
<rect x="6" y="354" width="2" height="2" fill="#fff"/>
<rect x="1611" y="352" width="6" height="6" fill="#0000ff"/>
<rect x="1613" y="354" width="2" height="2" fill="#fff"/>
<rect x="5" y="383" width="1612" height="2" fill="#0000ff"/>
<rect x="4" y="381" width="6" height="6" fill="#0000ff"/>
<rect x="6" y="383" width="2" height="2" fill="#fff"/>
<rect x="1611" y="381" width="6" height="6" fill="#0000ff"/>
<rect x="1613" y="383" width="2" height="2" fill="#fff"/>
<rect x="1617" y="27" width="1" height="791" fill="#000"/>
<rect x="1618" y="58" width="2" height="1" fill="#000"/>
<rect x="1618" y="91" width="2" height="1" fill="#000"/>
<rect x="1618" y="124" width="2" height="1" fill="#000"/>
<rect x="1618" y="158" width="2" height="1" fill="#000"/>
<rect x="1618" y="191" width="2" height="1" fill="#000"/>
<rect x="1618" y="224" width="2" height="1" fill="#000"/>
<rect x="1618" y="257" width="2" height="1" fill="#000"/>
<rect x="1618" y="290" width="2" height="1" fill="#000"/>
<rect x="1618" y="323" width="2" height="1" fill="#000"/>
<rect x="1618" y="357" width="2" height="1" fill="#000"/>
<rect x="1618" y="390" width="2" height="1" fill="#000"/>
<rect x="1618" y="423" width="2" height="1" fill="#000"/>
<rect x="1618" y="456" width="2" height="1" fill="#000"/>
<rect x="1618" y="489" width="2" height="1" fill="#000"/>
<rect x="1618" y="523" width="2" height="1" fill="#000"/>
<rect x="1618" y="556" width="2" height="1" fill="#000"/>
<rect x="1618" y="589" width="2" height="1" fill="#000"/>
</g>
<text x="1623" y="62" font-size="10" fill="#000" textLength="33" lengthAdjust="spacingAndGlyphs"  xml:space="preserve">0.94390</text>
<text x="1623" y="95" font-size="10" fill="#000" textLength="33" lengthAdjust="spacingAndGlyphs"  xml:space="preserve">0.94255</text>
<text x="1623" y="128" font-size="10" fill="#000" textLength="33" lengthAdjust="spacingAndGlyphs"  xml:space="preserve">0.94120</text>
<text x="1623" y="162" font-size="10" fill="#000" textLength="33" lengthAdjust="spacingAndGlyphs"  xml:space="preserve">0.93985</text>
<text x="1623" y="195" font-size="10" fill="#000" textLength="33" lengthAdjust="spacingAndGlyphs"  xml:space="preserve">0.93850</text>
<text x="1623" y="228" font-size="10" fill="#000" textLength="33" lengthAdjust="spacingAndGlyphs"  xml:space="preserve">0.93715</text>
<text x="1623" y="261" font-size="10" fill="#000" textLength="33" lengthAdjust="spacingAndGlyphs"  xml:space="preserve">0.93580</text>
<text x="1623" y="294" font-size="10" fill="#000" textLength="33" lengthAdjust="spacingAndGlyphs"  xml:space="preserve">0.93445</text>
<text x="1623" y="327" font-size="10" fill="#000" textLength="33" lengthAdjust="spacingAndGlyphs"  xml:space="preserve">0.93310</text>
<text x="1623" y="361" font-size="10" fill="#000" textLength="33" lengthAdjust="spacingAndGlyphs"  xml:space="preserve">0.93175</text>
<text x="1623" y="394" font-size="10" fill="#000" textLength="33" lengthAdjust="spacingAndGlyphs"  xml:space="preserve">0.93040</text>
<text x="1623" y="427" font-size="10" fill="#000" textLength="33" lengthAdjust="spacingAndGlyphs"  xml:space="preserve">0.92905</text>
<text x="1623" y="460" font-size="10" fill="#000" textLength="33" lengthAdjust="spacingAndGlyphs"  xml:space="preserve">0.92770</text>
<text x="1623" y="493" font-size="10" fill="#000" textLength="33" lengthAdjust="spacingAndGlyphs"  xml:space="preserve">0.92635</text>
<text x="1623" y="527" font-size="10" fill="#000" textLength="33" lengthAdjust="spacingAndGlyphs"  xml:space="preserve">0.92500</text>
<text x="1623" y="560" font-size="10" fill="#000" textLength="33" lengthAdjust="spacingAndGlyphs"  xml:space="preserve">0.92365</text>
<text x="1623" y="593" font-size="10" fill="#000" textLength="33" lengthAdjust="spacingAndGlyphs"  xml:space="preserve">0.92230</text>
<rect x="1619" y="240" width="41" height="11" fill="#ff0000" shape-rendering="crispEdges"/>
<text x="1623" y="249" font-size="10" fill="#fff" textLength="33" lengthAdjust="spacingAndGlyphs"  xml:space="preserve">0.93625</text>
<rect x="1619" y="272" width="41" height="11" fill="#ff0000" shape-rendering="crispEdges"/>
<text x="1623" y="281" font-size="10" fill="#fff" textLength="33" lengthAdjust="spacingAndGlyphs"  xml:space="preserve">0.93495</text>
<rect x="1619" y="303" width="41" height="11" fill="#ffa500" shape-rendering="crispEdges"/>
<text x="1623" y="312" font-size="10" fill="#fff" textLength="33" lengthAdjust="spacingAndGlyphs"  xml:space="preserve">0.93369</text>
<rect x="1619" y="318" width="41" height="11" fill="#000" shape-rendering="crispEdges"/>
<text x="1623" y="327" font-size="10" fill="#fff" textLength="33" lengthAdjust="spacingAndGlyphs"  xml:space="preserve">0.93314</text>
<rect x="1619" y="349" width="41" height="11" fill="#0000ff" shape-rendering="crispEdges"/>
<text x="1623" y="358" font-size="10" fill="#fff" textLength="33" lengthAdjust="spacingAndGlyphs"  xml:space="preserve">0.93182</text>
<rect x="1619" y="378" width="41" height="11" fill="#0000ff" shape-rendering="crispEdges"/>
<text x="1623" y="387" font-size="10" fill="#fff" textLength="33" lengthAdjust="spacingAndGlyphs"  xml:space="preserve">0.93065</text>
<path d="M8 34h7v1h-1v1h-1v1h-1v1h-1v-1h-1v-1h-1v-1h-1z" fill="#000" shape-rendering="crispEdges"/>
<text x="20.7" y="39" font-size="10" fill="#000" textLength="57" lengthAdjust="spacingAndGlyphs"  xml:space="preserve">USDCHF-,H4</text>
<text x="84.3" y="39" font-size="10" fill="#000" textLength="140.7" lengthAdjust="spacingAndGlyphs"  xml:space="preserve">0.93651 0.93651 0.93313 0.93314</text>
<path d="M1289 28h9v1h-1v1h-1v1h-1v1h-1v1h-1v-1h-1v-1h-1v-1h-1v-1h-1z" fill="#000" shape-rendering="crispEdges"/>
<g fill="#4c9a2a" stroke="none"><path d="M1283.6 190.2 L1344 280" stroke="#4c9a2a" stroke-width="3.2" fill="none"/><path d="M1336.4 283.5 L1350.7 273.9 L1353.2 293.2z"/></g>
<g shape-rendering="crispEdges">
<rect x="5" y="667" width="2" height="2" fill="#00ff00"/>
<rect x="20" y="668" width="3" height="1" fill="#00ff00"/>
<rect x="36" y="667" width="3" height="2" fill="#00ff00"/>
<rect x="52" y="667" width="3" height="2" fill="#00ff00"/>
<rect x="68" y="665" width="3" height="4" fill="#00ff00"/>
<rect x="84" y="661" width="3" height="8" fill="#00ff00"/>
<rect x="100" y="658" width="3" height="11" fill="#00ff00"/>
<rect x="116" y="658" width="3" height="11" fill="#00ff00"/>
<rect x="132" y="658" width="3" height="11" fill="#00ff00"/>
<rect x="148" y="655" width="3" height="14" fill="#00ff00"/>
<rect x="164" y="651" width="3" height="18" fill="#00ff00"/>
<rect x="180" y="645" width="3" height="24" fill="#00ff00"/>
<rect x="196" y="642" width="3" height="27" fill="#00ff00"/>
<rect x="212" y="642" width="3" height="27" fill="#00ff00"/>
<rect x="228" y="640" width="3" height="29" fill="#00ff00"/>
<rect x="244" y="637" width="3" height="32" fill="#00ff00"/>
<rect x="260" y="634" width="3" height="35" fill="#00ff00"/>
<rect x="276" y="631" width="3" height="38" fill="#00ff00"/>
<rect x="292" y="629" width="3" height="40" fill="#00ff00"/>
<rect x="308" y="628" width="3" height="41" fill="#00ff00"/>
<rect x="324" y="625" width="3" height="44" fill="#00ff00"/>
<rect x="340" y="624" width="3" height="45" fill="#00ff00"/>
<rect x="356" y="617" width="3" height="52" fill="#00ff00"/>
<rect x="372" y="611" width="3" height="58" fill="#00ff00"/>
<rect x="388" y="607" width="3" height="62" fill="#00ff00"/>
<rect x="404" y="603" width="3" height="66" fill="#00ff00"/>
<rect x="420" y="601" width="3" height="68" fill="#00ff00"/>
<rect x="436" y="602" width="3" height="67" fill="#00ff00"/>
<rect x="452" y="610" width="3" height="59" fill="#00ff00"/>
<rect x="468" y="616" width="3" height="53" fill="#00ff00"/>
<rect x="484" y="622" width="3" height="47" fill="#00ff00"/>
<rect x="500" y="627" width="3" height="42" fill="#00ff00"/>
<rect x="516" y="627" width="3" height="42" fill="#00ff00"/>
<rect x="532" y="629" width="3" height="40" fill="#00ff00"/>
<rect x="548" y="632" width="3" height="37" fill="#00ff00"/>
<rect x="564" y="630" width="3" height="39" fill="#00ff00"/>
<rect x="580" y="627" width="3" height="42" fill="#00ff00"/>
<rect x="596" y="628" width="3" height="41" fill="#00ff00"/>
<rect x="612" y="630" width="3" height="39" fill="#00ff00"/>
<rect x="628" y="637" width="3" height="32" fill="#00ff00"/>
<rect x="644" y="638" width="3" height="31" fill="#00ff00"/>
<rect x="660" y="638" width="3" height="31" fill="#00ff00"/>
<rect x="676" y="639" width="3" height="30" fill="#00ff00"/>
<rect x="692" y="637" width="3" height="32" fill="#00ff00"/>
<rect x="708" y="635" width="3" height="34" fill="#00ff00"/>
<rect x="724" y="636" width="3" height="33" fill="#00ff00"/>
<rect x="740" y="637" width="3" height="32" fill="#00ff00"/>
<rect x="756" y="638" width="3" height="31" fill="#00ff00"/>
<rect x="772" y="638" width="3" height="31" fill="#00ff00"/>
<rect x="788" y="638" width="3" height="31" fill="#00ff00"/>
<rect x="804" y="642" width="3" height="27" fill="#00ff00"/>
<rect x="820" y="646" width="3" height="23" fill="#00ff00"/>
<rect x="836" y="649" width="3" height="20" fill="#00ff00"/>
<rect x="852" y="657" width="3" height="12" fill="#00ff00"/>
<rect x="868" y="661" width="3" height="8" fill="#00ff00"/>
<rect x="884" y="667" width="3" height="2" fill="#00ff00"/>
<rect x="1076" y="659" width="3" height="10" fill="#00ff00"/>
<rect x="1092" y="654" width="3" height="15" fill="#00ff00"/>
<rect x="1108" y="648" width="3" height="21" fill="#00ff00"/>
<rect x="1124" y="648" width="3" height="21" fill="#00ff00"/>
<rect x="1140" y="647" width="3" height="22" fill="#00ff00"/>
<rect x="1156" y="647" width="3" height="22" fill="#00ff00"/>
<rect x="1172" y="648" width="3" height="21" fill="#00ff00"/>
<rect x="1188" y="651" width="3" height="18" fill="#00ff00"/>
<rect x="1204" y="655" width="3" height="14" fill="#00ff00"/>
<rect x="1220" y="660" width="3" height="9" fill="#00ff00"/>
<rect x="1236" y="664" width="3" height="5" fill="#00ff00"/>
<rect x="900" y="669" width="3" height="8" fill="#00ff00"/>
<rect x="916" y="669" width="3" height="11" fill="#00ff00"/>
<rect x="932" y="669" width="3" height="18" fill="#00ff00"/>
<rect x="948" y="669" width="3" height="23" fill="#00ff00"/>
<rect x="964" y="669" width="3" height="28" fill="#00ff00"/>
<rect x="980" y="669" width="3" height="34" fill="#00ff00"/>
<rect x="996" y="669" width="3" height="38" fill="#00ff00"/>
<rect x="1012" y="669" width="3" height="35" fill="#00ff00"/>
<rect x="1028" y="669" width="3" height="25" fill="#00ff00"/>
<rect x="1044" y="669" width="3" height="11" fill="#00ff00"/>
<rect x="1060" y="669" width="3" height="1" fill="#00ff00"/>
<rect x="1252" y="669" width="3" height="4" fill="#00ff00"/>
<polyline points="5,654 21,656.6 37,659.3 53,662 69,663.5 85,663.5 101,663.5 117,663.5 133,663.5 149,662.6 165,660.4 181,658.2 197,655.6 213,652.7 229,650.5 245,648.3 261,645.5 277,642.6 293,639.4 309,636.4 325,634.4 341,632.7 357,629.8 373,626.5 389,623.8 405,619.7 421,616.4 437,613.8 453,611.3 469,610.8 485,610.1 501,611 517,613.3 533,615 549,619.4 565,622.3 581,625.3 597,627.3 613,628.5 629,630.2 645,631.3 661,632.3 677,633.5 693,634 709,634.4 725,635.5 741,636.4 757,637.2 773,637.2 789,637.2 805,637.7 821,638.2 837,639.1 853,642.4 869,645.3 885,648.2 901,652.9 917,657.2 933,663 949,668 965,674.4 981,679.4 997,685.3 1013,690.7 1029,692.7 1045,692.9 1061,691.2 1077,688.2 1093,684.8 1109,679.8 1125,673.5 1141,666.7 1157,660.9 1173,655.9 1189,652.5 1205,652 1221,651.2 1237,652.2 1253,655 1254,655.2" fill="none" stroke="#ff0000" stroke-width="2"/>
<rect x="1618" y="669" width="2" height="1" fill="#000"/>
</g>
<text x="9.2" y="607" font-size="10" fill="#000" textLength="65.3" lengthAdjust="spacingAndGlyphs"  xml:space="preserve">MACD(12,26,9)</text>
<text x="78.7" y="607" font-size="10" fill="#000" textLength="39.9" lengthAdjust="spacingAndGlyphs"  xml:space="preserve">-0.000164</text>
<text x="122.4" y="607" font-size="10" fill="#000" textLength="37.4" lengthAdjust="spacingAndGlyphs"  xml:space="preserve">0.000826</text>
<text x="1621" y="605" font-size="10" fill="#000" textLength="33" lengthAdjust="spacingAndGlyphs"  xml:space="preserve">0.00417</text>
<text x="1621" y="673" font-size="10" fill="#000" textLength="19" lengthAdjust="spacingAndGlyphs"  xml:space="preserve">0.00</text>
<text x="1622" y="709" font-size="10" fill="#000" textLength="40" lengthAdjust="spacingAndGlyphs"  xml:space="preserve">-0.002387</text>
<g shape-rendering="crispEdges">
<polyline points="5,767.7 21,766.5 37,764.8 53,765 69,762.6 85,757.3 101,756.9 117,762.4 133,762.6 149,756.5 165,753.2 181,750 197,750.1 213,757.9 229,754.2 245,752 261,749.3 277,748.3 293,747.9 309,747.7 325,745.2 341,744.7 357,738.1 373,738.1 389,738.1 405,736.5 421,735.6 437,743.2 453,762 469,761 485,761 501,759.3 517,755.2 533,757.5 549,758.9 565,751.2 581,749.1 597,754.2 613,757.9 629,766.7 645,759.9 661,757.8 677,759.7 693,755.2 709,755.2 725,758.7 741,758.5 757,756.5 773,756.3 789,758.9 805,763 821,765.7 837,764.6 853,773.8 869,772 885,773.8 901,780.8 917,773 933,777.9 949,778.3 965,780.4 981,782.6 997,782.8 1013,769.5 1029,756.9 1045,755.5 1061,754.2 1077,752.6 1093,755.9 1109,755 1125,760.8 1141,760.6 1157,760.2 1173,762.2 1189,766.7 1205,768.5 1221,770.6 1237,771 1253,778.1 1254,778.5" fill="none" stroke="#1e90ff" stroke-width="2"/>
<path d="M6 736.5H1617" stroke="#000" stroke-width="1" stroke-dasharray="3 3" fill="none"/>
<path d="M6 766.5H1617" stroke="#000" stroke-width="1" stroke-dasharray="3 3" fill="none"/>
<path d="M6 801.5H1617" stroke="#000" stroke-width="1" stroke-dasharray="3 3" fill="none"/>
</g>
<text x="9.2" y="727" font-size="10" fill="#000" textLength="31" lengthAdjust="spacingAndGlyphs"  xml:space="preserve">RSI(14)</text>
<text x="44.3" y="727" font-size="10" fill="#000" textLength="32.9" lengthAdjust="spacingAndGlyphs"  xml:space="preserve">38.1303</text>
<text x="1622" y="726" font-size="10" fill="#000" textLength="14" lengthAdjust="spacingAndGlyphs"  xml:space="preserve">100</text>
<text x="1620.5" y="740" font-size="10" fill="#000" textLength="9.5" lengthAdjust="spacingAndGlyphs"  xml:space="preserve">80</text>
<text x="1620.5" y="770" font-size="10" fill="#000" textLength="9.5" lengthAdjust="spacingAndGlyphs"  xml:space="preserve">50</text>
<text x="1620.5" y="805" font-size="10" fill="#000" textLength="9.5" lengthAdjust="spacingAndGlyphs"  xml:space="preserve">15</text>
<text x="1621" y="814" font-size="10" fill="#000" textLength="5" lengthAdjust="spacingAndGlyphs"  xml:space="preserve">0</text>
<g shape-rendering="crispEdges">
<rect x="5" y="818" width="1" height="3" fill="#000"/>
<rect x="69" y="818" width="1" height="3" fill="#000"/>
<rect x="133" y="818" width="1" height="3" fill="#000"/>
<rect x="197" y="818" width="1" height="3" fill="#000"/>
<rect x="261" y="818" width="1" height="3" fill="#000"/>
<rect x="325" y="818" width="1" height="3" fill="#000"/>
<rect x="389" y="818" width="1" height="3" fill="#000"/>
<rect x="453" y="818" width="1" height="3" fill="#000"/>
<rect x="517" y="818" width="1" height="3" fill="#000"/>
<rect x="581" y="818" width="1" height="3" fill="#000"/>
<rect x="645" y="818" width="1" height="3" fill="#000"/>
<rect x="709" y="818" width="1" height="3" fill="#000"/>
<rect x="773" y="818" width="1" height="3" fill="#000"/>
<rect x="837" y="818" width="1" height="3" fill="#000"/>
<rect x="901" y="818" width="1" height="3" fill="#000"/>
<rect x="965" y="818" width="1" height="3" fill="#000"/>
<rect x="1029" y="818" width="1" height="3" fill="#000"/>
<rect x="1093" y="818" width="1" height="3" fill="#000"/>
<rect x="1157" y="818" width="1" height="3" fill="#000"/>
<rect x="1221" y="818" width="1" height="3" fill="#000"/>
</g>
<text x="4" y="830" font-size="10" fill="#000" textLength="52.3" lengthAdjust="spacingAndGlyphs"  xml:space="preserve">20 Feb 2023</text>
<text x="68" y="830" font-size="10" fill="#000" textLength="54.9" lengthAdjust="spacingAndGlyphs"  xml:space="preserve">21 Feb 12:00</text>
<text x="132" y="830" font-size="10" fill="#000" textLength="54.9" lengthAdjust="spacingAndGlyphs"  xml:space="preserve">22 Feb 04:00</text>
<text x="196" y="830" font-size="10" fill="#000" textLength="54.9" lengthAdjust="spacingAndGlyphs"  xml:space="preserve">22 Feb 20:00</text>
<text x="260" y="830" font-size="10" fill="#000" textLength="54.9" lengthAdjust="spacingAndGlyphs"  xml:space="preserve">23 Feb 12:00</text>
<text x="324" y="830" font-size="10" fill="#000" textLength="54.9" lengthAdjust="spacingAndGlyphs"  xml:space="preserve">24 Feb 04:00</text>
<text x="388" y="830" font-size="10" fill="#000" textLength="54.9" lengthAdjust="spacingAndGlyphs"  xml:space="preserve">26 Feb 23:00</text>
<text x="452" y="830" font-size="10" fill="#000" textLength="54.9" lengthAdjust="spacingAndGlyphs"  xml:space="preserve">27 Feb 12:00</text>
<text x="516" y="830" font-size="10" fill="#000" textLength="54.9" lengthAdjust="spacingAndGlyphs"  xml:space="preserve">28 Feb 04:00</text>
<text x="580" y="830" font-size="10" fill="#000" textLength="54.9" lengthAdjust="spacingAndGlyphs"  xml:space="preserve">28 Feb 20:00</text>
<text x="644" y="830" font-size="10" fill="#000" textLength="49.7" lengthAdjust="spacingAndGlyphs"  xml:space="preserve">1 Mar 12:00</text>
<text x="708" y="830" font-size="10" fill="#000" textLength="49.7" lengthAdjust="spacingAndGlyphs"  xml:space="preserve">2 Mar 04:00</text>
<text x="772" y="830" font-size="10" fill="#000" textLength="49.7" lengthAdjust="spacingAndGlyphs"  xml:space="preserve">2 Mar 20:00</text>
<text x="836" y="830" font-size="10" fill="#000" textLength="49.7" lengthAdjust="spacingAndGlyphs"  xml:space="preserve">3 Mar 12:00</text>
<text x="900" y="830" font-size="10" fill="#000" textLength="49.7" lengthAdjust="spacingAndGlyphs"  xml:space="preserve">6 Mar 04:00</text>
<text x="964" y="830" font-size="10" fill="#000" textLength="49.7" lengthAdjust="spacingAndGlyphs"  xml:space="preserve">6 Mar 20:00</text>
<text x="1028" y="830" font-size="10" fill="#000" textLength="49.7" lengthAdjust="spacingAndGlyphs"  xml:space="preserve">7 Mar 12:00</text>
<text x="1092" y="830" font-size="10" fill="#000" textLength="49.7" lengthAdjust="spacingAndGlyphs"  xml:space="preserve">8 Mar 04:00</text>
<text x="1156" y="830" font-size="10" fill="#000" textLength="49.7" lengthAdjust="spacingAndGlyphs"  xml:space="preserve">8 Mar 20:00</text>
<text x="1220" y="830" font-size="10" fill="#000" textLength="49.7" lengthAdjust="spacingAndGlyphs"  xml:space="preserve">9 Mar 12:00</text>
</svg></body></html>
